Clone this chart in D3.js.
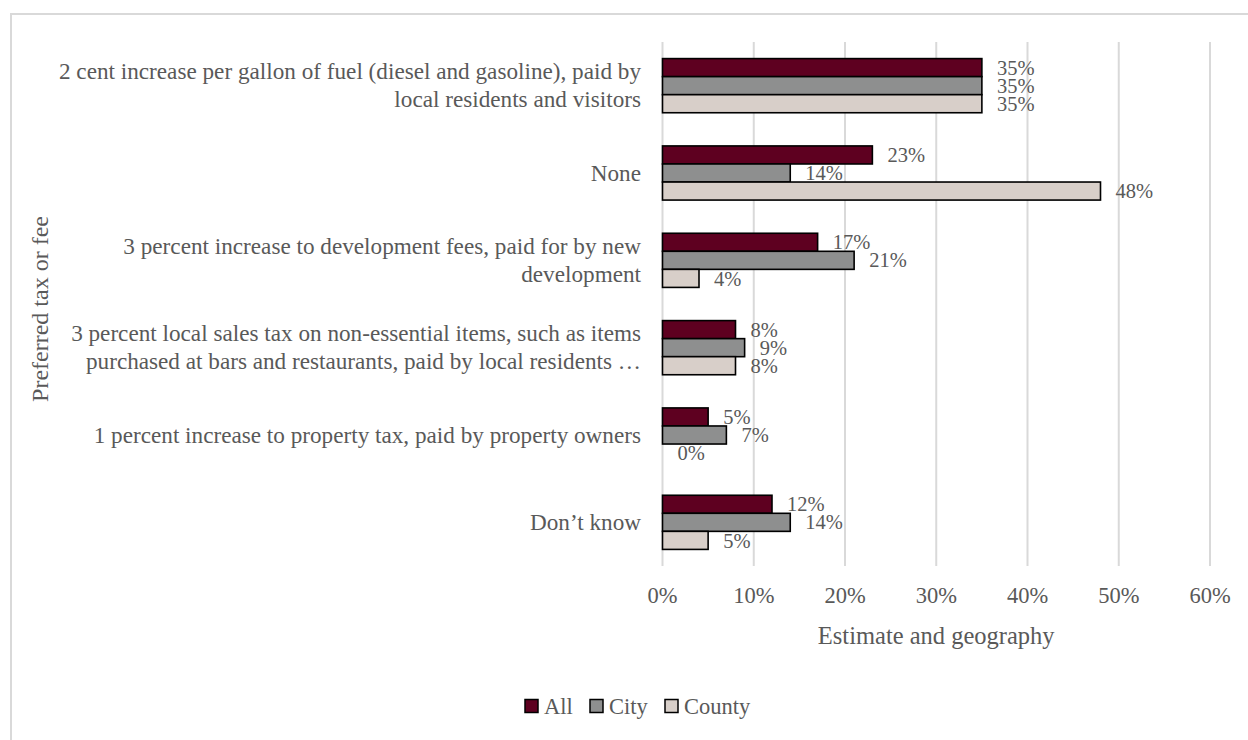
<!DOCTYPE html>
<html>
<head>
<meta charset="utf-8">
<script src="https://cdn.jsdelivr.net/npm/d3@7"></script>
<style>
  html, body { margin: 0; padding: 0; background: #ffffff; }
  svg { display: block; }
  text { font-family: "Liberation Serif", "DejaVu Serif", serif; fill: #595959; }
</style>
</head>
<body>
<svg id="chart" width="1248" height="740"></svg>
<script>
// Categories (top to bottom), each split into its display lines
const categories = [
  "2 cent increase per gallon of fuel (diesel and gasoline), paid by local residents and visitors",
  "None",
  "3 percent increase to development fees, paid for by new development",
  "3 percent local sales tax on non-essential items, such as items purchased at bars and restaurants, paid by local residents …",
  "1 percent increase to property tax, paid by property owners",
  "Don’t know"
];
const categoryLines = [
  ["2 cent increase per gallon of fuel (diesel and gasoline), paid by", "local residents and visitors"],
  ["None"],
  ["3 percent increase to development fees, paid for by new", "development"],
  ["3 percent local sales tax on non-essential items, such as items", "purchased at bars and restaurants, paid by local residents …"],
  ["1 percent increase to property tax, paid by property owners"],
  ["Don’t know"]
];

const seriesNames = ["All", "City", "County"];
const allValues    = [35, 23, 17, 8, 5, 12];
const cityValues   = [35, 14, 21, 9, 7, 14];
const countyValues = [35, 48, 4, 8, 0, 5];
const seriesColors = ["#5e0020", "#8e8f8f", "#d8cfc9"];

const xTicks = [0, 10, 20, 30, 40, 50, 60];
const xTickLabels = ["0%", "10%", "20%", "30%", "40%", "50%", "60%"];

const seriesValues = [allValues, cityValues, countyValues];
const rows = categories.map((c, i) => ({
  category: c,
  lines: categoryLines[i],
  values: seriesNames.map((s, j) => ({ series: s, value: seriesValues[j][i], color: seriesColors[j] }))
}));

const FS = 22.5;       // tick, legend
const FS_CAT = 23.2;   // category labels
const FS_VAL = 20.5;   // value labels

const svg = d3.select("#chart");

// outer chart frame
svg.append("rect")
  .attr("x", 11).attr("y", 14)
  .attr("width", 1400).attr("height", 900)
  .attr("fill", "none")
  .attr("stroke", "#d9d9d9")
  .attr("stroke-width", 2);

const plot = { left: 662.5, right: 1210, top: 42, bottom: 566 };

const x = d3.scaleLinear().domain([0, 60]).range([plot.left, plot.right]);
const y0 = d3.scaleBand().domain(categories).range([plot.top, plot.bottom])
  .paddingInner(0.38).paddingOuter(0.19);
const y1 = d3.scaleBand().domain(seriesNames).range([0, y0.bandwidth()]);

// vertical gridlines
svg.append("g")
  .selectAll("line")
  .data(xTicks)
  .join("line")
  .attr("x1", d => x(d)).attr("x2", d => x(d))
  .attr("y1", plot.top).attr("y2", plot.bottom)
  .attr("stroke", "#d9d9d9")
  .attr("stroke-width", 2);

// x tick labels
svg.append("g")
  .selectAll("text")
  .data(xTicks)
  .join("text")
  .attr("x", d => x(d))
  .attr("y", 595)
  .attr("dy", "0.35em")
  .attr("text-anchor", "middle")
  .style("font-size", FS + "px")
  .text((d, i) => xTickLabels[i]);

// bars
const groups = svg.append("g")
  .selectAll("g")
  .data(rows)
  .join("g")
  .attr("transform", d => `translate(0,${y0(d.category)})`);

groups.selectAll("rect")
  .data(d => d.values)
  .join("rect")
  .attr("x", x(0))
  .attr("y", d => y1(d.series))
  .attr("width", d => x(d.value) - x(0))
  .attr("height", y1.bandwidth())
  .attr("fill", d => d.color)
  .attr("stroke", d => d.value > 0 ? "#000" : "none")
  .attr("stroke-width", 1.6);

// value labels
groups.selectAll("text")
  .data(d => d.values)
  .join("text")
  .attr("x", d => x(d.value) + 15)
  .attr("y", d => y1(d.series) + y1.bandwidth() / 2)
  .attr("dy", "0.35em")
  .style("font-size", FS_VAL + "px")
  .text(d => d.value + "%");

// category labels
const catLabels = svg.append("g")
  .selectAll("text")
  .data(rows)
  .join("text")
  .attr("text-anchor", "end")
  .style("font-size", FS_CAT + "px")
  .attr("y", d => y0(d.category) + y0.bandwidth() / 2);

const lineH = 28;
catLabels.selectAll("tspan")
  .data(d => d.lines.map((l, i) => ({ l, i, n: d.lines.length })))
  .join("tspan")
  .attr("x", 641)
  .attr("dy", d => d.i === 0 ? ((-(d.n - 1) * lineH / 2) + 7.5) + "px" : lineH + "px")
  .text(d => d.l);

// axis titles
svg.append("text")
  .attr("x", (plot.left + plot.right) / 2)
  .attr("y", 635)
  .attr("dy", "0.35em")
  .attr("text-anchor", "middle")
  .style("font-size", "24.5px")
  .text("Estimate and geography");

svg.append("text")
  .attr("transform", "translate(40,309) rotate(-90)")
  .attr("dy", "0.35em")
  .attr("text-anchor", "middle")
  .style("font-size", "24px")
  .text("Preferred tax or fee");

// legend
const legendItems = [
  { name: "All", color: seriesColors[0], x: 525 },
  { name: "City", color: seriesColors[1], x: 590 },
  { name: "County", color: seriesColors[2], x: 665 }
];
const legend = svg.append("g")
  .selectAll("g")
  .data(legendItems)
  .join("g")
  .attr("transform", d => `translate(${d.x},706)`);
legend.append("rect")
  .attr("x", 0).attr("y", -6.5)
  .attr("width", 13).attr("height", 13)
  .attr("fill", d => d.color)
  .attr("stroke", "#000")
  .attr("stroke-width", 1.5);
legend.append("text")
  .attr("x", 19)
  .attr("dy", "0.35em")
  .style("font-size", FS + "px")
  .text(d => d.name);
</script>
</body>
</html>
